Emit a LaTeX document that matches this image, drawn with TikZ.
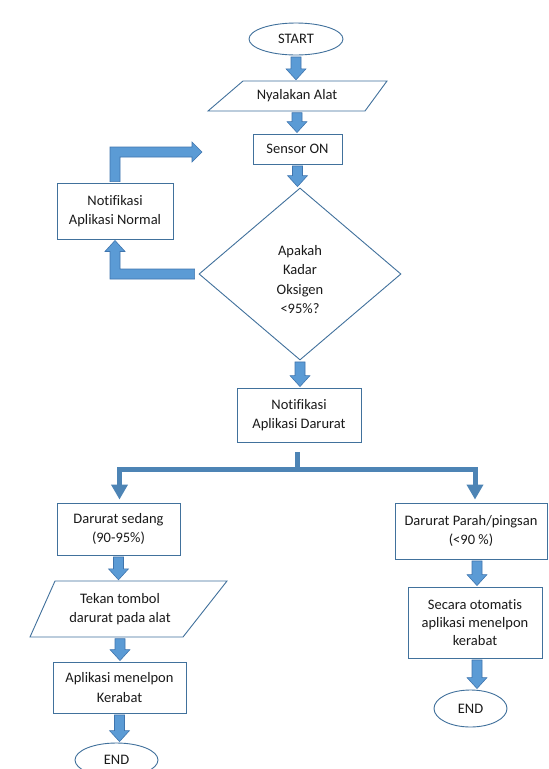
\documentclass[tikz,border=0pt]{standalone}
\usepackage{fontspec}
\setmainfont{Carlito}[Ligatures=NoCommon]
\usetikzlibrary{shapes.geometric,calc,arrows.meta}
\definecolor{boxc}{HTML}{41719C}
\definecolor{arrf}{HTML}{5B9BD5}
\definecolor{arrd}{HTML}{3F75AE}
\definecolor{txt}{HTML}{1A1A1A}
\newcommand\blkdown[2]{%
  \coordinate (bdA) at ($(#1)+(0,1.5)$);
  \coordinate (bdB) at ($(#1 |- #2)+(0,-1)$);
  \draw[blk] ($(bdA)+(-5,0)$) -- ($(bdA)+(5,0)$) -- ($(bdB)+(5,-11)$) -- ($(bdB)+(10,-11)$) -- (bdB) -- ($(bdB)+(-10,-11)$) -- ($(bdB)+(-5,-11)$) -- cycle;}
\tikzset{
  base/.style={font=\fontsize{14.5pt}{19.5pt}\selectfont, text=txt, align=center, inner sep=0pt},
  box/.style={base, draw=boxc, line width=0.9pt, fill=white, rectangle},
  term/.style={base, draw=boxc, line width=0.9pt, fill=white, ellipse},
  pgram/.style={draw=boxc, line width=0.9pt, line join=miter},
  blk/.style={fill=arrf, draw=arrd, line width=0.6pt, line join=miter},
  thinc/.style={draw=arrf!85!black, line width=5pt, line join=miter}
}
\begin{document}
\begin{tikzpicture}[x=1pt,y=-1pt]
\fill[white] (0,0) rectangle (549,769);
\useasboundingbox (0,0) rectangle (549,769);

% nodes
\node[term, minimum width=94pt, minimum height=32pt] (start) at (296,39) {START};
\node[base, minimum height=30pt] (nyal) at (297,96) {Nyalakan Alat};
\draw[pgram] ($(nyal)+(-89,15)$) -- ($(nyal)+(68,15)$) -- ($(nyal)+(90,-15)$) -- ($(nyal)+(-54,-15)$) -- cycle;
\node[box, minimum width=89pt, minimum height=30pt] (sensor) at (297.5,149) {Sensor ON};
\node[base, draw=boxc, line width=0.9pt, diamond, minimum width=202pt, minimum height=172pt] (diam) at (300,274)
  {\rule{0pt}{21pt}Apakah\\Kadar\\Oksigen\\<95\%?};
\node[box, minimum width=116pt, minimum height=56pt] (norm) at (115,211) {Notifikasi\\Aplikasi Normal};
\node[box, minimum width=124pt, minimum height=54pt] (dar) at (299,415) {Notifikasi\\Aplikasi Darurat};
\node[box, minimum width=123pt, minimum height=52pt] (sed) at (118.5,529) {Darurat sedang\\(90-95\%)};
\node[box, minimum width=152pt, minimum height=56pt] (par) at (471,531) {Darurat Parah/pingsan\\(<90 \%)};
\node[base, minimum height=56pt] (tekan) at (120,609) {Tekan tombol\\darurat pada alat};
\draw[pgram] ($(tekan)+(-90,28)$) -- ($(tekan)+(63,28)$) -- ($(tekan)+(107,-28)$) -- ($(tekan)+(-65,-28)$) -- cycle;
\node[box, minimum width=133pt, minimum height=51pt] (apl) at (119.5,687.5) {Aplikasi menelpon\\Kerabat};
\node[term, minimum width=83pt, minimum height=34pt] (end1) at (116.5,760) {END};
\node[box, minimum width=134pt, minimum height=71pt, font=\fontsize{14.5pt}{18pt}\selectfont] (sec) at (475,622.5) {Secara otomatis\\aplikasi menelpon\\kerabat};
\node[term, minimum width=73pt, minimum height=37pt] (end2) at (470.5,708.5) {END};

% straight block arrows
\blkdown{start.south}{nyal.north}
\blkdown{nyal.south}{sensor.north}
\blkdown{sensor.south}{diam.north}
\blkdown{diam.south}{dar.north}
\blkdown{sed.south}{tekan.north}
\blkdown{tekan.south}{apl.north}
\blkdown{apl.south}{end1.north}
\coordinate (parS) at ($(par.south)+(6,0)$);
\blkdown{parS}{sec.north}
\coordinate (secS) at ($(sec.south)+(2,0)$);
\blkdown{secS}{end2.north}

% loop: diamond -> normal
\coordinate (L2) at (norm.south |- diam.west);
\draw[blk] ($(diam.west)+(-4,-5)$) -- ($(L2)+(5,-5)$) -- ($(norm.south)+(5,12)$) -- ($(norm.south)+(10,12)$)
  -- ($(norm.south)+(0,1)$) -- ($(norm.south)+(-10,12)$) -- ($(norm.south)+(-5,12)$) -- ($(L2)+(-5,5)$)
  -- ($(diam.west)+(-4,5)$) -- cycle;

% loop: normal -> back towards sensor
\coordinate (tipT) at (202,152);
\coordinate (L3) at (norm.north |- tipT);
\draw[blk] ($(norm.north)+(-5,-1)$) -- ($(L3)+(-5,-5)$) -- ($(tipT)+(-10,-5)$) -- ($(tipT)+(-10,-10)$)
  -- (tipT) -- ($(tipT)+(-10,10)$) -- ($(tipT)+(-10,5)$) -- ($(L3)+(5,5)$) -- ($(norm.north)+(5,-1)$) -- cycle;

% branch
\coordinate (bar) at (297.5,469.5);
\coordinate (stemT) at ($(dar.south)+(-1.5,10)$);
\coordinate (stemB) at (stemT |- bar);
\draw[thinc] (stemT) -- (stemB);
\coordinate (sedN) at ($(sed.north)+(1,-3)$);
\coordinate (parN) at ($(par.north)+(4,-3)$);
\draw[thinc, {Triangle[width=16pt,length=15pt]}-{Triangle[width=16pt,length=15pt]}]
  (sedN) -- (sedN |- bar) -- (parN |- bar) -- (parN);
\end{tikzpicture}
\end{document}
